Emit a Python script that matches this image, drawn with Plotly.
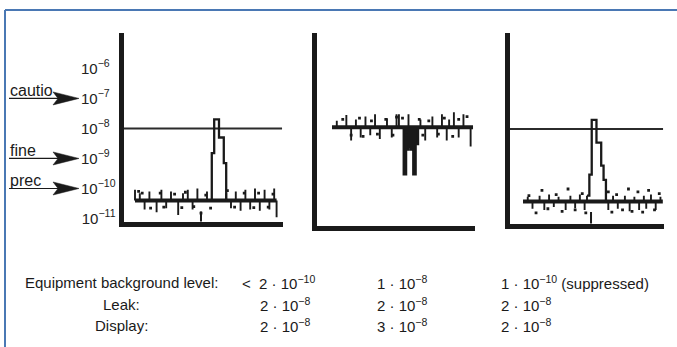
import plotly.graph_objects as go

W, H = 677, 347
FONT = "Liberation Sans, Arial, sans-serif"
INK = "#1a1a1a"

# ---------------- data ----------------
SAMPLES = list(range(60))

P1_BASE = 4e-11
P1_NOISE = [9e-11, 4e-11, 7e-11, 4e-11, 2e-11, 4e-11, 8e-11, 4e-11, 4e-11, 1.6e-11,
            4e-11, 9e-11, 4e-11, 2.2e-11, 4e-11, 8e-11, 4e-11, 4e-11, 1.3e-11, 4e-11,
            7e-11, 4e-11, 9e-11, 4e-11, 2e-11, 4e-11, 1e-10, 4e-11, 4e-11, 4e-11,
            8e-11, 4e-11, 4e-11, 4e-11, 4e-11, 4e-11, 4e-11, 4e-11, 7e-11, 4e-11,
            2.2e-11, 4e-11, 8e-11, 4e-11, 1.8e-11, 4e-11, 9e-11, 4e-11, 2e-11, 4e-11,
            1e-10, 4e-11, 1.8e-11, 4e-11, 9e-11, 4e-11, 2e-11, 4e-11, 1e-10, 1.1e-11]
P1_PEAK_X = [31, 32, 33, 34, 35, 36, 37, 38]
P1_PEAK_Y = [4e-11, 1.5e-9, 2e-8, 2e-8, 5e-9, 5e-9, 7e-10, 4e-11]

P2_BASE = 1.1e-8
P2_NOISE = [1.1e-8, 1.1e-8, 1.8e-8, 1.1e-8, 1.1e-8, 1.1e-8, 2.8e-8, 1.1e-8, 4e-9, 1.1e-8,
            2e-8, 1.1e-8, 5e-9, 1.1e-8, 2.5e-8, 1.1e-8, 6e-9, 1.1e-8, 3e-8, 1.1e-8,
            4.5e-9, 1.1e-8, 1.1e-8, 2.2e-8, 1.1e-8, 5e-9, 1.1e-8, 3e-8, 3e-8, 1.1e-8,
            1.1e-8, 1.1e-8, 3e-8, 1.1e-8, 1.1e-8, 1.1e-8, 1.1e-8, 2e-8, 1.1e-8, 4e-9,
            1.1e-8, 1.1e-8, 2.5e-8, 1.1e-8, 5e-9, 1.1e-8, 3e-8, 1.1e-8, 4e-9, 2e-8,
            1.1e-8, 3.5e-8, 1.1e-8, 5e-9, 1.1e-8, 3e-8, 1.1e-8, 1.1e-8, 2.5e-9, 1.1e-8]
P2_DIP_X = [29, 30, 31, 32, 33, 34, 35, 36]
P2_DIP_Y = [1.1e-8, 3e-10, 2e-9, 2.5e-9, 2e-9, 3e-10, 3e-9, 1.1e-8]

P3_BASE = 3.8e-11
P3_NOISE = [3.8e-11, 3.8e-11, 5.5e-11, 3.8e-11, 2.2e-11, 3.8e-11, 3.8e-11, 6e-11, 3.8e-11, 2e-11,
            3.8e-11, 6.5e-11, 3.8e-11, 2.5e-11, 3.8e-11, 5.5e-11, 3.8e-11, 3.8e-11, 2e-11, 3.8e-11,
            6e-11, 3.8e-11, 2.3e-11, 3.8e-11, 6.5e-11, 3.8e-11, 2e-11, 6e-11, 3.8e-11, 3.8e-11,
            3.8e-11, 3.8e-11, 3.8e-11, 3.8e-11, 3.8e-11, 3.8e-11, 2e-11, 3.8e-11, 6e-11, 3.8e-11,
            2.2e-11, 3.8e-11, 3.8e-11, 6e-11, 3.8e-11, 1.8e-11, 3.8e-11, 5.5e-11, 3.8e-11, 2e-11,
            3.8e-11, 6e-11, 2.2e-11, 3.8e-11, 6.5e-11, 3.8e-11, 2e-11, 3.8e-11, 5.5e-11, 3.8e-11]
P3_PEAK_X = [27, 28, 29, 30, 31, 32, 33, 34, 35]
P3_PEAK_Y = [6e-11, 3e-10, 2e-8, 2e-8, 3.5e-9, 3.5e-9, 6e-10, 2e-10, 3.8e-11]

P1_DOT_X = [1.5, 3, 6.5, 10.5, 12, 16.5, 19.5, 21, 24.5, 27.5, 29.5, 31.5, 38.5, 41.5, 45.5, 49.5, 51.5, 55.5, 57.5]
P1_DOT_Y = [8e-11, 7e-11, 2.2e-11, 7e-11, 2.4e-11, 6.5e-11, 2.3e-11, 7.5e-11, 2.5e-11, 1.5e-11,
            6e-11, 2.2e-11, 8.5e-11, 2.4e-11, 7e-11, 2.3e-11, 7e-11, 2.4e-11, 6.5e-11]
P2_DOT_X = [4.5, 8, 11.5, 13, 16.5, 19, 22.5, 25.5, 27, 29.5, 31, 36.5, 38, 40.5, 44.5, 47, 50.5, 53, 56.5]
P2_DOT_Y = [2e-8, 6e-9, 2.2e-8, 5.5e-9, 1.8e-8, 6.5e-9, 2e-8, 6e-9, 2.4e-8, 2.2e-8,
            6e-9, 2e-8, 6e-9, 1.8e-8, 6.5e-9, 2.2e-8, 5.5e-9, 2e-8, 2.5e-8]
P3_DOT_X = [2.5, 5.5, 8, 10.5, 14, 16.5, 19, 22, 25, 26.5, 36, 37.5, 39.5, 42, 44.5, 46, 48.5, 50.5, 53, 55.5, 57.5]
P3_DOT_Y = [6e-11, 1.6e-11, 9e-11, 2.2e-11, 6.5e-11, 1.8e-11, 1e-10, 2e-11, 7e-11, 1.6e-11,
            8e-11, 1.7e-11, 6.5e-11, 2e-11, 1e-10, 1.8e-11, 8e-11, 1.7e-11, 9e-11, 2e-11, 7e-11]
P1_FLICK_X, P1_FLICK_Y = [27.5], [1.05e-11]
P3_FLICK_X, P3_FLICK_Y = [28.7], [1.05e-11]

REF_LEVEL = 1e-8

TICK_VALUES = [1e-6, 1e-7, 1e-8, 1e-9, 1e-10, 1e-11]
TICK_TEXT = ["10<sup>−6\u2007</sup>", "10<sup>−7\u2007</sup>", "10<sup>−8\u2007</sup>",
             "10<sup>−9\u2007</sup>", "10<sup>−10</sup>", "10<sup>−11</sup>"]

MARK_LABELS = ["cautio", "fine", "prec"]
MARK_LEVELS = [-7, -9, -10]   # log10 of the marked levels

ROW_LABELS = ["Equipment background level:", "Leak:", "Display:"]
BACKGROUND = ["<\u00a0 2 · 10<sup>−10</sup>", "1 · 10<sup>−8</sup>", "1 · 10<sup>−10</sup> (suppressed)"]
LEAK = ["2 · 10<sup>−8</sup>", "2 · 10<sup>−8</sup>", "2 · 10<sup>−8</sup>"]
DISPLAY = ["2 · 10<sup>−8</sup>", "3 · 10<sup>−8</sup>", "2 · 10<sup>−8</sup>"]

# ---------------- layout helpers (pixel -> paper) ----------------
def fx(p):
    return p / W

def fy(p):
    return 1 - p / H

P1_TOP, P1_BOTTOM = 33, 221.5
P1_YR = [-11.1, -4.82]

panels = [
    dict(noise=P1_NOISE, base=P1_BASE, px=P1_PEAK_X, py=P1_PEAK_Y, fill=False,
         dx=P1_DOT_X, dy=P1_DOT_Y, fxs=P1_FLICK_X, fys=P1_FLICK_Y, ref=True,
         xdom=[fx(123.5), fx(283)], ydom=[fy(P1_BOTTOM), fy(P1_TOP)], xr=[-4.79, 61.67], yr=P1_YR, ticks=True),
    dict(noise=P2_NOISE, base=P2_BASE, px=P2_DIP_X, py=P2_DIP_Y, fill=True,
         dx=P2_DOT_X, dy=P2_DOT_Y, fxs=[], fys=[], ref=False,
         xdom=[fx(317), fx(475)], ydom=[fy(225.5), fy(33)], xr=[-6.28, 59.83], yr=[-11.23, -4.82], ticks=False),
    dict(noise=P3_NOISE, base=P3_BASE, px=P3_PEAK_X, py=P3_PEAK_Y, fill=False,
         dx=P3_DOT_X, dy=P3_DOT_Y, fxs=P3_FLICK_X, fys=P3_FLICK_Y, ref=True,
         xdom=[fx(509.5), fx(664)], ydom=[fy(223.5), fy(33)], xr=[-5.7, 59.5], yr=[-11.15, -4.8], ticks=False),
]

fig = go.Figure()
layout = {}
for k, p in enumerate(panels, start=1):
    xa = "x" if k == 1 else f"x{k}"
    ya = "y" if k == 1 else f"y{k}"
    common = dict(xaxis=xa, yaxis=ya, showlegend=False, hoverinfo="skip")
    if p["ref"]:
        fig.add_trace(go.Scatter(x=[p["xr"][0], p["xr"][1] - 0.4], y=[REF_LEVEL, REF_LEVEL], mode="lines",
                                 line=dict(color="#2b2b2b", width=2), **common))
    # background baseline
    fig.add_trace(go.Scatter(x=[SAMPLES[0], SAMPLES[-1]], y=[p["base"], p["base"]], mode="lines",
                             line=dict(color=INK, width=4), **common))
    # noise spikes (vertical strokes from the baseline)
    sx, sy = [], []
    for i, v in zip(SAMPLES, p["noise"]):
        if v != p["base"]:
            sx += [i, i, None]
            sy += [p["base"], v, None]
    fig.add_trace(go.Scatter(x=sx, y=sy, mode="lines", line=dict(color=INK, width=1.9), **common))
    # peak / dip outline
    extra = dict(fill="toself", fillcolor=INK) if p["fill"] else {}
    fig.add_trace(go.Scatter(x=p["px"], y=p["py"], mode="lines",
                             line=dict(shape="hv", color=INK, width=2.3), **extra, **common))
    fig.add_trace(go.Scatter(x=p["dx"], y=p["dy"], mode="markers",
                             marker=dict(symbol="square", size=2.8, color=INK), **common))
    if p["fxs"]:
        fig.add_trace(go.Scatter(x=p["fxs"], y=p["fys"], mode="markers",
                                 marker=dict(symbol="line-ns", size=9, line=dict(width=2, color=INK)),
                                 **common))
    xkey = "xaxis" if k == 1 else f"xaxis{k}"
    ykey = "yaxis" if k == 1 else f"yaxis{k}"
    layout[xkey] = dict(domain=p["xdom"], range=p["xr"], anchor=ya, showline=True, linewidth=5,
                        linecolor=INK, showgrid=False, zeroline=False, showticklabels=False, ticks="")
    yax = dict(type="log", domain=p["ydom"], range=p["yr"], anchor=xa, showline=True, linewidth=5,
               linecolor=INK, showgrid=False, zeroline=False, ticks="")
    if p["ticks"]:
        yax.update(tickmode="array", tickvals=TICK_VALUES, ticktext=TICK_TEXT,
                   tickfont=dict(family=FONT, size=15, color="#222"))
    else:
        yax.update(showticklabels=False)
    layout[ykey] = yax


def level_px(lvl):
    return P1_TOP + (P1_YR[1] - lvl) / (P1_YR[1] - P1_YR[0]) * (P1_BOTTOM - P1_TOP)


annotations = []
shapes = [
    dict(type="line", xref="paper", yref="paper", x0=fx(5), x1=1.0, y0=fy(10), y1=fy(10),
         line=dict(color="#4a78b4", width=2)),
    dict(type="line", xref="paper", yref="paper", x0=fx(5), x1=fx(5), y0=fy(10), y1=0,
         line=dict(color="#4a78b4", width=2)),
]
for label, lvl in zip(MARK_LABELS, MARK_LEVELS):
    yp = level_px(lvl)
    shapes.append(dict(type="line", xref="paper", yref="paper", x0=fx(9), x1=fx(58), y0=fy(yp), y1=fy(yp),
                       line=dict(color=INK, width=1.2)))
    shapes.append(dict(type="path", xref="paper", yref="paper",
                       path=(f"M {fx(79)},{fy(yp)} L {fx(53)},{fy(yp - 6.5)} L {fx(58)},{fy(yp)} "
                             f"L {fx(53)},{fy(yp + 6.5)} Z"),
                       fillcolor=INK, line=dict(color=INK, width=0.5)))
    annotations.append(dict(xref="paper", yref="paper", x=fx(8), y=fy(yp), text=label, showarrow=False,
                            xanchor="left", yanchor="bottom", yshift=-3,
                            font=dict(family=FONT, size=16, color=INK)))

row_y = [282, 304, 325]
cols = [BACKGROUND, LEAK, DISPLAY]
col_x = [[240, 375, 499], [258, 375, 499], [258, 375, 499]]
for r, (lab, vals) in enumerate(zip(ROW_LABELS, cols)):
    annotations.append(dict(xref="paper", yref="paper", x=fx(121.5), y=fy(row_y[r]), text=lab,
                            showarrow=False, xanchor="center", yanchor="middle",
                            font=dict(family=FONT, size=15, color=INK)))
    for c, v in enumerate(vals):
        annotations.append(dict(xref="paper", yref="paper", x=fx(col_x[r][c]), y=fy(row_y[r]), text=v,
                                showarrow=False, xanchor="left", yanchor="middle",
                                font=dict(family=FONT, size=15, color=INK)))

fig.update_layout(width=W, height=H, autosize=False,
                  margin=dict(l=0, r=0, t=0, b=0, pad=0, autoexpand=False),
                  paper_bgcolor="white", plot_bgcolor="white",
                  font=dict(family=FONT, color=INK), showlegend=False,
                  annotations=annotations, shapes=shapes, **layout)

fig.write_html("out.html", config={"displayModeBar": False, "responsive": False},
               post_script="document.body.style.margin='0';")
